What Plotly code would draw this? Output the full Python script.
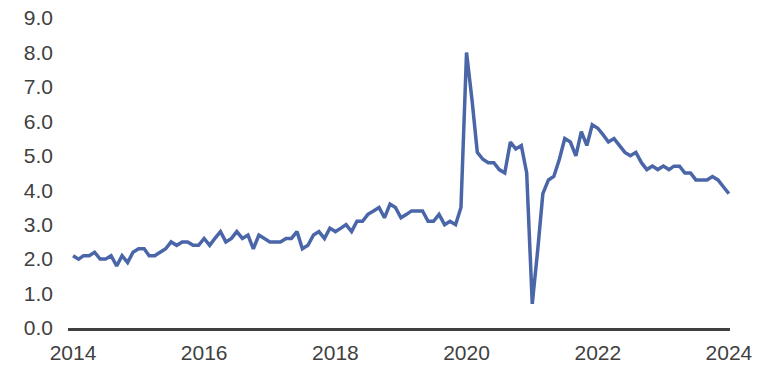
import pandas as pd
import plotly.graph_objects as go

# Monthly values, Jan 2014 - Jan 2024
values_2014 = [2.1, 2.0, 2.1, 2.1, 2.2, 2.0, 2.0, 2.1, 1.8, 2.1, 1.9, 2.2]
values_2015 = [2.3, 2.3, 2.1, 2.1, 2.2, 2.3, 2.5, 2.4, 2.5, 2.5, 2.4, 2.4]
values_2016 = [2.6, 2.4, 2.6, 2.8, 2.5, 2.6, 2.8, 2.6, 2.7, 2.3, 2.7, 2.6]
values_2017 = [2.5, 2.5, 2.5, 2.6, 2.6, 2.8, 2.3, 2.4, 2.7, 2.8, 2.6, 2.9]
values_2018 = [2.8, 2.9, 3.0, 2.8, 3.1, 3.1, 3.3, 3.4, 3.5, 3.2, 3.6, 3.5]
values_2019 = [3.2, 3.3, 3.4, 3.4, 3.4, 3.1, 3.1, 3.3, 3.0, 3.1, 3.0, 3.5]
values_2020 = [8.0, 6.6, 5.1, 4.9, 4.8, 4.8, 4.6, 4.5, 5.4, 5.2, 5.3, 4.5]
values_2021 = [0.7, 2.3, 3.9, 4.3, 4.4, 4.9, 5.5, 5.4, 5.0, 5.7, 5.3, 5.9]
values_2022 = [5.8, 5.6, 5.4, 5.5, 5.3, 5.1, 5.0, 5.1, 4.8, 4.6, 4.7, 4.6]
values_2023 = [4.7, 4.6, 4.7, 4.7, 4.5, 4.5, 4.3, 4.3, 4.3, 4.4, 4.3, 4.1]
values_2024 = [3.9]

values = (values_2014 + values_2015 + values_2016 + values_2017 + values_2018
          + values_2019 + values_2020 + values_2021 + values_2022 + values_2023
          + values_2024)
dates = pd.date_range("2014-01-01", periods=len(values), freq="MS")

tick_years = ["2014", "2016", "2018", "2020", "2022", "2024"]
y_ticks = [0, 1, 2, 3, 4, 5, 6, 7, 8, 9]
y_labels = [f"{v:.1f}" for v in y_ticks]

fig = go.Figure()
fig.add_trace(go.Scatter(
    x=dates, y=values, mode="lines",
    line=dict(color="#4a66a8", width=3.5),
    hoverinfo="skip", showlegend=False,
))

font_family = "Liberation Sans, Arial, sans-serif"
fig.update_layout(
    width=770, height=370,
    margin=dict(l=68, r=40, t=18, b=42),
    paper_bgcolor="white", plot_bgcolor="white",
    font=dict(family=font_family, size=21, color="#404040"),
    xaxis=dict(
        range=["2013-12-04", "2024-01-07"],
        tickvals=[pd.Timestamp(y + "-01-01") for y in tick_years],
        ticktext=tick_years,
        showgrid=False, zeroline=False, automargin=False,
        showline=True, linecolor="#404040", linewidth=3,
        ticks="", ticklabelstandoff=4,
    ),
    yaxis=dict(
        range=[0, 9.001],
        tickvals=y_ticks, ticktext=y_labels,
        showgrid=False, zeroline=False, showline=False, automargin=False,
        ticks="", ticklabelstandoff=14,
    ),
)

fig.write_html(
    "out.html",
    config={"displayModeBar": False, "staticPlot": True},
    post_script="document.body.style.margin='0px';document.body.style.overflow='hidden';",
)
